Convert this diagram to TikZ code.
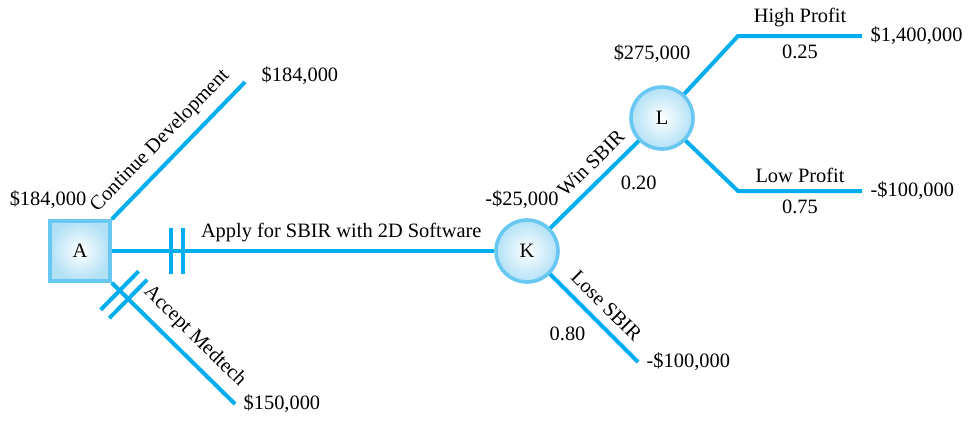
\documentclass[tikz,border=0pt]{standalone}
\usepackage{fontspec}
\setmainfont{Liberation Serif}
\usetikzlibrary{calc,decorations.markings}

\definecolor{treeblue}{RGB}{0,174,239}
\definecolor{rimblue}{RGB}{105,200,242}
\definecolor{fillblue}{RGB}{178,225,246}

\tikzset{
    branch/.style={draw=treeblue, line width=2pt},
    decision/.style={draw=rimblue, line width=1.8pt, minimum size=30pt, inner color=white, outer color=fillblue},
    chance/.style={circle, draw=rimblue, line width=1.8pt, minimum size=31pt, inner color=white, outer color=fillblue},
    gate/.style 2 args={postaction={decorate, decoration={markings,
        mark=at position #1 with {\draw[treeblue, line width=2pt] (-3pt,-#2) -- (-3pt,#2) (3pt,-#2) -- (3pt,#2);}}}}
}

\begin{document}
\begin{tikzpicture}[x=0.5pt, y=-0.5pt, font=\fontsize{10.2}{12}\selectfont]
    \useasboundingbox (0,0) rectangle (976,425);
    % decision and chance nodes
    \node[decision] (A) at (80,251) {A};
    \node[chance] (K) at (527,251) {K};
    \node[chance] (L) at (662,118) {L};
    % end points
    \coordinate (cd) at (245,82);
    \coordinate (am) at (235,404);
    \coordinate (ls) at (638,362);
    \coordinate (hpk) at (738,36);
    \coordinate (hp) at (862,36);
    \coordinate (lpk) at (738,191);
    \coordinate (lp) at (862,191);
    % branches of A
    \draw[branch] (A.north east) -- node[above=1pt, sloped, pos=0.47] {Continue Development} (cd) node[right, xshift=4pt, yshift=3pt] {\$184,000};
    \draw[branch, gate={32.5pt}{11.5pt}] (A.east) -- node[above, pos=0.6] {Apply for SBIR with 2D Software} (K.west);
    \draw[branch, gate={8.5pt}{13.5pt}] (A.south east) -- node[above=1pt, sloped, pos=0.56] {Accept Medtech} (am) node[right] {\$150,000};
    % branches of K
    \draw[branch] (K) -- node[above=1pt, sloped, pos=0.6] {Win SBIR} node[below right, pos=0.7] {0.20} (L);
    \draw[branch] (K) -- node[above=1pt, sloped] {Lose SBIR} node[below left] {0.80} (ls) node[right] {-\$100,000};
    % branches of L
    \draw[branch] (L) -- (hpk) -- node[above] {High Profit} node[below] {0.25} (hp) node[right] {\$1,400,000};
    \draw[branch] (L) -- (lpk) -- node[above] {Low Profit} node[below] {0.75} (lp) node[right] {-\$100,000};
    % rolled back values
    \node (vA) at (48,200) {\$184,000};
    \node (vK) at (522,200) {-\$25,000};
    \node (vL) at (652,54) {\$275,000};
\end{tikzpicture}
\end{document}
